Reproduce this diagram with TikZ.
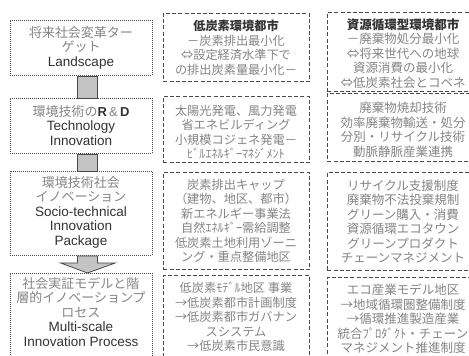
\documentclass[tikz,border=0pt]{standalone}
\usepackage{fontspec}
\setmainfont{Noto Sans CJK JP}
\newfontfamily\enfont{Liberation Sans}
\usetikzlibrary{calc}
\definecolor{txtgray}{HTML}{858585}
\definecolor{txtdark}{HTML}{333333}
\definecolor{edge}{HTML}{4A4A4A}
\definecolor{barfill}{HTML}{C4C4C4}
\newcommand\entxt[1]{{\enfont\fontsize{13.5}{14.5}\selectfont\color{txtdark}#1}}
\newcommand\ttl[1]{{\bfseries\color{txtdark}#1}}
\begin{document}
\begin{tikzpicture}[x=1pt,y=-1pt,
  lframe/.style={draw=edge, line width=0.9pt, dash pattern=on 1pt off 1pt, inner sep=0pt, anchor=north west},
  rframe/.style={draw=edge, line width=0.9pt, dash pattern=on 4pt off 2.2pt, inner sep=0pt, anchor=north west},
  ltext/.style={align=center, font=\fontsize{13}{14.5}\selectfont, text=txtgray, inner sep=0pt},
  mtext/.style={align=center, font=\fontsize{12.2}{14.5}\selectfont, text=txtgray, inner sep=0pt},
  rtext/.style={align=center, font=\fontsize{12.5}{14.5}\selectfont, text=txtgray, inner sep=0pt},
  bar/.style={draw=edge, fill=barfill, line width=0.8pt}
]
\useasboundingbox (0,0) rectangle (469,356);
\fill[white] (0,0) rectangle (469,356);
\clip (0,0) rectangle (469,356);

% left column frames
\node[lframe, minimum width=142pt, minimum height=55pt] (L1) at (10,20) {};
\node[lframe, minimum width=142pt, minimum height=55pt] (L2) at (10,98) {};
\node[lframe, minimum width=142pt, minimum height=84pt] (L3) at (10,171) {};
\node[lframe, minimum width=142pt, minimum height=95pt] (L4) at (10,273) {};

% middle column frames
\node[rframe, minimum width=146pt, minimum height=68pt] (M1) at (163,13) {};
\node[rframe, minimum width=146pt, minimum height=66pt] (M2) at (163,96) {};
\node[rframe, minimum width=146pt, minimum height=97pt] (M3) at (163,172) {};
\node[rframe, minimum width=146pt, minimum height=95pt] (M4) at (163,275) {};

% right column frames
\node[rframe, minimum width=152pt, minimum height=79pt] (R1) at (327,12) {};
\node[rframe, minimum width=152pt, minimum height=68pt] (R2) at (327,93) {};
\node[rframe, minimum width=152pt, minimum height=98pt] (R3) at (327,172) {};
\node[rframe, minimum width=152pt, minimum height=95pt] (R4) at (327,277) {};

% connectors in left column
\draw[bar] ($(L1.south)+(-4,0)$) rectangle ($(L2.north)+(16,0)$);
\draw[bar] ($(L2.south)+(-4,0)$) rectangle ($(L3.north)+(16,0)$);
\draw[bar] ($(L3.south)+(-4,0)$) -- ($(L3.south)+(16,0)$) -- ($(L3.south)+(16,7)$)
  -- ($(L3.south)+(34,7)$) -- ($(L4.north)+(6,0)$) -- ($(L3.south)+(-21,7)$)
  -- ($(L3.south)+(-4,7)$) -- cycle;

% left texts
\node[ltext] (L1t) at (81,47.5) {将来社会変革ター\\ゲット\\\entxt{Landscape}};
\node[ltext] (L2t) at (81,125.5) {環境技術の{\enfont\bfseries\color{txtdark}R}\,{\enfont\&}\,{\enfont\bfseries\color{txtdark}D}\\\entxt{Technology}\\\entxt{Innovation}};
\node[ltext] (L3t) at (81,212) {環境技術社会\\イノベーション\\\entxt{Socio-technical}\\\entxt{Innovation}\\\entxt{Package}};
\node[ltext] (L4t) at (81,312) {社会実証モデルと階\\層的イノベーションプ\\ロセス\\\entxt{Multi-scale}\\\entxt{Innovation Process}};

% middle texts
\node[mtext] (M1t) at (236,48) {\ttl{低炭素環境都市}\\－炭素排出最小化\\⇔設定経済水準下で\\の排出炭素量最小化－};
\node[mtext] (M2t) at (236,132) {太陽光発電、風力発電\\省エネビルディング\\小規模コジェネ発電－\\ﾋﾞﾙｴﾈﾙｷﾞｰﾏﾈｼﾞﾒﾝﾄ};
\node[mtext] (M3t) at (236,221) {炭素排出キャップ\\（建物、地区、都市）\\新エネルギー事業法\\自然ｴﾈﾙｷﾞｰ需給調整\\低炭素土地利用ゾーニ\\ング・重点整備地区};
\node[mtext] (M4t) at (236,317) {低炭素ﾓﾃﾞﾙ地区 事業\\→低炭素都市計画制度\\→低炭素都市ガバナン\\スシステム\\→低炭素市民意識};

% right texts
\node[rtext] (R1t) at (403,53.5) {\ttl{資源循環型環境都市}\\－廃棄物処分最小化\\⇔将来世代への地球\\資源消費の最小化\\⇔低炭素社会とコベネ};
\node[rtext] (R2t) at (403,130) {廃棄物焼却技術\\効率廃棄物輸送・処分\\分別・リサイクル技術\\動脈静脈産業連携};
\node[rtext] (R3t) at (403,221.5) {リサイクル支援制度\\廃棄物不法投棄規制\\グリーン購入・消費\\資源循環エコタウン\\グリーンプロダクト\\チェーンマネジメント};
\node[rtext] (R4t) at (403,319) {エコ産業モデル地区\\→地域循環圏整備制度\\→循環推進製造産業\\統合ﾌﾟﾛﾀﾞｸﾄ・チェーン\\マネジメント推進制度};
\end{tikzpicture}
\end{document}
